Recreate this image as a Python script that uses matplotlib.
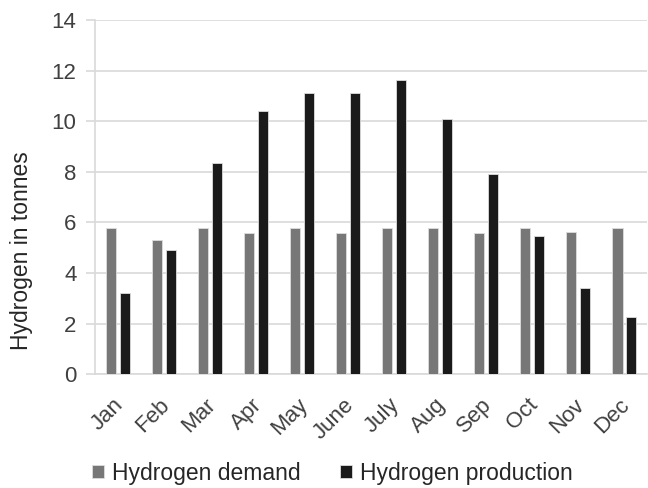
import numpy as np
import matplotlib
matplotlib.use("Agg")
import matplotlib.pyplot as plt
import matplotlib.transforms as mtransforms

plt.rcParams["font.family"] = ["Liberation Sans", "DejaVu Sans"]

months = ["Jan", "Feb", "Mar", "Apr", "May", "June", "July", "Aug", "Sep", "Oct", "Nov", "Dec"]
demand = [5.8, 5.3, 5.8, 5.6, 5.8, 5.6, 5.8, 5.8, 5.6, 5.8, 5.62, 5.8]
production = [3.2, 4.92, 8.35, 10.4, 11.1, 11.1, 11.62, 10.1, 7.9, 5.45, 3.4, 2.25]

fig = plt.figure(figsize=(6.48, 4.88), dpi=100)
ax = fig.add_axes([0.147, 0.233, 0.852, 0.726])

x = np.arange(len(months))
w = 0.22
ax.bar(x - 0.15, demand, w, color="#777777", edgecolor="#dddddd", linewidth=0.6,
       label="Hydrogen demand", zorder=3)
ax.bar(x + 0.15, production, w, color="#1a1a1a", edgecolor="#dddddd", linewidth=0.6,
       label="Hydrogen production", zorder=3)

ax.set_xlim(-0.5, 11.5)
ax.set_ylim(0, 14)
ax.set_yticks(range(0, 15, 2))
ax.grid(axis="y", color="#d9d9d9", linewidth=1.2, zorder=0)

for side in ["top", "right"]:
    ax.spines[side].set_visible(False)
ax.spines["left"].set_color("#d9d9d9")
ax.spines["bottom"].set_color("#d9d9d9")
ax.spines["left"].set_linewidth(1.2)
ax.spines["bottom"].set_linewidth(1.2)

ax.set_xticks(x)
ax.set_xticklabels(months, rotation=45, ha="right", va="top", rotation_mode="anchor")
ax.tick_params(axis="x", length=0, labelsize=16, colors="#404040", pad=13)
shift = mtransforms.ScaledTranslation(-5 / 100, -2 / 100, fig.dpi_scale_trans)
for lab in ax.get_xticklabels():
    lab.set_transform(lab.get_transform() + shift)
ax.tick_params(axis="y", length=6.5, color="#d9d9d9", width=1.2, labelsize=16,
               colors="#404040", pad=7)
ax.set_ylabel("Hydrogen in tonnes", fontsize=16.5, color="#262626")
ax.yaxis.set_label_coords(-0.113, 0.35)

fig.legend(loc="center", bbox_to_anchor=(0.513, 0.03), ncol=2, frameon=False,
           fontsize=16.5, handlelength=0.52, handleheight=0.52, handletextpad=0.35,
           columnspacing=1.7, labelcolor="#262626")

fig.savefig("out.png", dpi=100)
